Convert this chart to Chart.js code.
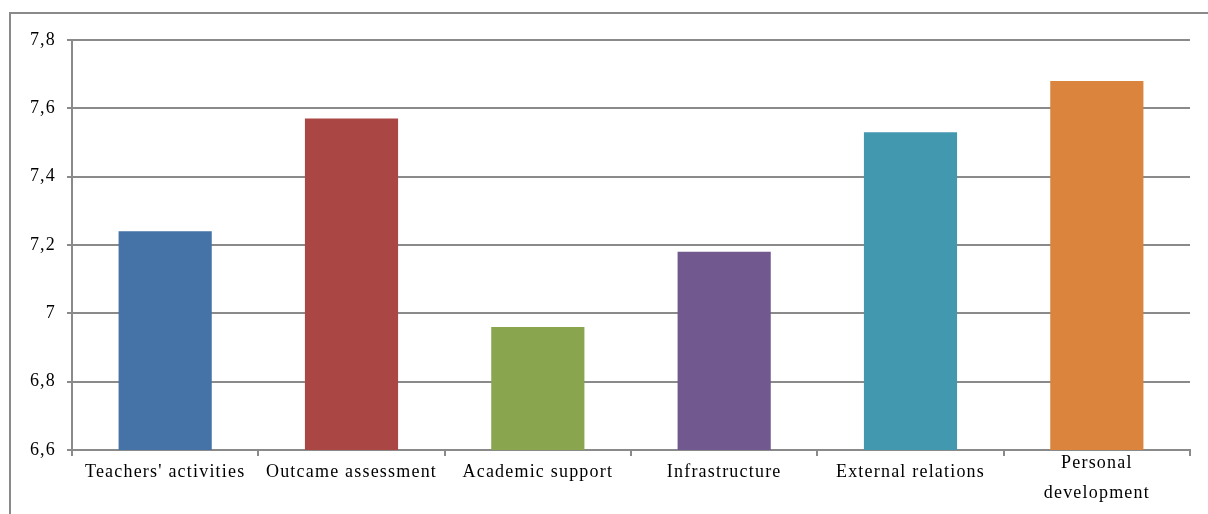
<!DOCTYPE html>
<html>
<head>
<meta charset="utf-8">
<script src="https://cdn.jsdelivr.net/npm/chart.js@4/dist/chart.umd.min.js"></script>
<style>
  html, body { margin: 0; padding: 0; background: #fff; }
  #frame {
    position: absolute; left: 9px; top: 12px; width: 1210px; height: 520px;
    border-left: 2px solid #8a8a8a; border-top: 2px solid #8a8a8a;
  }
  #wrap { position: absolute; left: 0; top: 0; width: 1208px; height: 514px; }
</style>
</head>
<body>
<div id="frame"></div>
<div id="wrap"><canvas id="chart" width="1208" height="514"></canvas></div>
<script>
// --- data ---
const categories = [
    "Teachers' activities",
    'Outcame assessment',
    'Academic support',
    'Infrastructure',
    'External relations',
    ['Personal', 'development']
];
const scores = [7.24, 7.57, 6.96, 7.18, 7.53, 7.68];
const barColors = ['#4572A7', '#AA4643', '#89A54E', '#71588F', '#4198AF', '#DB843D'];
const yTicks = [6.6, 6.8, 7, 7.2, 7.4, 7.6, 7.8];

const gridGray = '#8a8a8a';
const serif = "'Liberation Serif', 'Times New Roman', serif";

// the original text is set a little wide
const spacing = {
    id: 'spacing',
    beforeLayout(chart) { chart.ctx.letterSpacing = '1.2px'; },
    beforeDraw(chart) { chart.ctx.letterSpacing = '1.2px'; }
};

// two-line labels sit a bit higher than one-line ones in the original
function xFont(c) {
    const twoLines = Array.isArray(categories[c.index]);
    return { family: serif, size: 18, lineHeight: twoLines ? '30px' : '48px' };
}

const ctx = document.getElementById('chart').getContext('2d');
new Chart(ctx, {
    type: 'bar',
    data: {
        labels: categories,
        datasets: [{
            data: scores,
            backgroundColor: barColors,
            borderWidth: 0,
            categoryPercentage: 1,
            barPercentage: 0.5
        }]
    },
    options: {
        responsive: false,
        animation: false,
        layout: { padding: { top: 40, right: 18, left: 0, bottom: 0 } },
        plugins: { legend: { display: false }, tooltip: { enabled: false } },
        scales: {
            x: {
                grid: { offset: true, drawOnChartArea: false, color: gridGray, lineWidth: 2, tickLength: 6 },
                border: { color: gridGray, width: 2 },
                ticks: { color: '#000', font: xFont, padding: -8, maxRotation: 0, autoSkip: false },
                afterFit: (scale) => { scale.height = 64; }
            },
            y: {
                min: 6.6,
                max: 7.8,
                afterBuildTicks: (scale) => { scale.ticks = yTicks.map(v => ({ value: v })); },
                grid: { color: gridGray, lineWidth: 2, tickLength: 5 },
                border: { color: gridGray, width: 2 },
                ticks: {
                    color: '#000',
                    font: { family: serif, size: 18 },
                    padding: 11,
                    callback: (v) => String(Math.round(v * 10) / 10).replace('.', ',')
                },
                afterFit: (scale) => { scale.width = 72; }
            }
        }
    },
    plugins: [spacing]
});
</script>
</body>
</html>
